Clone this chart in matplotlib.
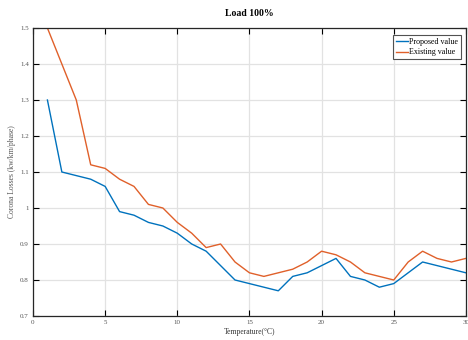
import matplotlib
matplotlib.use("Agg")
import matplotlib.pyplot as plt

plt.rcParams['font.family'] = ['Liberation Serif', 'DejaVu Serif']

temperature = list(range(1, 31))
proposed = [1.30, 1.10, 1.09, 1.08, 1.06, 0.99, 0.98, 0.96, 0.95, 0.93,
            0.90, 0.88, 0.84, 0.80, 0.79, 0.78, 0.77, 0.81, 0.82, 0.84,
            0.86, 0.81, 0.80, 0.78, 0.79, 0.82, 0.85, 0.84, 0.83, 0.82]
existing = [1.50, 1.40, 1.30, 1.12, 1.11, 1.08, 1.06, 1.01, 1.00, 0.96,
            0.93, 0.89, 0.90, 0.85, 0.82, 0.81, 0.82, 0.83, 0.85, 0.88,
            0.87, 0.85, 0.82, 0.81, 0.80, 0.85, 0.88, 0.86, 0.85, 0.86]
xticks = [0, 5, 10, 15, 20, 25, 30]
yticks = [0.7, 0.8, 0.9, 1.0, 1.1, 1.2, 1.3, 1.4, 1.5]
ytick_labels = ["0.7", "0.8", "0.9", "1", "1.1", "1.2", "1.3", "1.4", "1.5"]

fig = plt.figure(figsize=(4.68, 3.40), dpi=100)
ax = fig.add_axes([0.0705, 0.0706, 0.925, 0.847])

ax.plot(temperature, proposed, color="#0072BD", lw=1.0, label="Proposed value")
ax.plot(temperature, existing, color="#E0602A", lw=1.0, label="Existing value")

ax.set_xlim(0, 30)
ax.set_ylim(0.7, 1.5)
ax.set_xticks(xticks)
ax.set_yticks(yticks)
ax.set_yticklabels(ytick_labels)
ax.grid(True, color="#e2e2e2", lw=0.9)
ax.set_axisbelow(True)
ax.tick_params(direction="in", length=4, width=0.8, labelsize=5, labelcolor="#555555",
               top=True, right=True, pad=3)
for s in ax.spines.values():
    s.set_color("#262626")
    s.set_linewidth(0.9)

ax.set_title("Load 100%", fontsize=7, fontweight="bold", pad=9)
ax.set_xlabel("Temperature(\u00b0C)", fontsize=5.5, labelpad=2, color="#333333")
ax.set_ylabel("Corona Losses (kw/km/phase)", fontsize=5.5, labelpad=3, color="#555555")

leg = ax.legend(loc="upper right", fontsize=5.8, frameon=True, fancybox=False,
                handlelength=1.5, borderpad=0.35, labelspacing=0.35, handletextpad=0.2,
                borderaxespad=0.3, bbox_to_anchor=(0.995, 0.985))
leg.get_frame().set_edgecolor("#262626")
leg.get_frame().set_linewidth(0.8)

fig.savefig("out.png", dpi=100)
